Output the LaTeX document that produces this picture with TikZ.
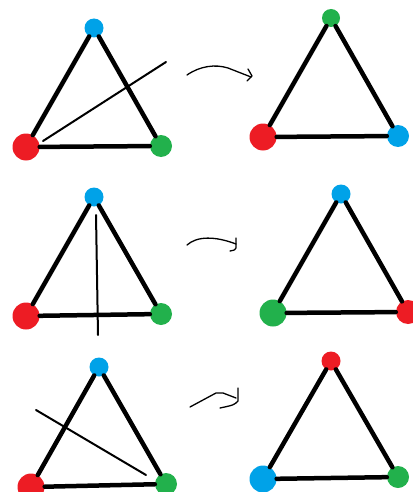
\documentclass[tikz,border=0pt]{standalone}
\definecolor{pred}{HTML}{ED1C24}
\definecolor{pblue}{HTML}{00A2E8}
\definecolor{pgreen}{HTML}{22B14C}
\tikzset{
  vtx/.style={circle,inner sep=0pt,minimum size=#1},
  rv/.style={vtx=#1,fill=pred},
  bv/.style={vtx=#1,fill=pblue},
  gv/.style={vtx=#1,fill=pgreen},
  edge/.style={line width=4.5pt,line cap=round},
  cut/.style={line width=2pt,line cap=round},
  hand/.style={line width=1.3pt,line cap=round,line join=round},
}
\begin{document}
\begin{tikzpicture}[x=1pt,y=-1pt]
\useasboundingbox (0,0) rectangle (412,492);
% panel 1
\coordinate (c1a) at (43,141); \coordinate (c1b) at (166,62);
\draw[cut] (c1a) -- (c1b);
\node[bv=19pt] (B1) at (94,28) {};
\node[rv=27pt] (R1) at (26,147) {};
\node[gv=22pt] (G1) at (161,146) {};
\draw[edge] (B1) -- (R1) -- (G1) -- (B1);
% panel 2
\node[gv=18pt] (G2) at (331,18) {};
\node[rv=27pt] (R2) at (263,137) {};
\node[bv=22pt] (B2) at (398,136) {};
\draw[edge] (G2) -- (R2) -- (B2) -- (G2);
% panel 3
\coordinate (c3a) at (96,215); \coordinate (c3b) at (98,335);
\draw[cut] (c3a) -- (c3b);
\node[bv=19pt] (B3) at (94,197) {};
\node[rv=27pt] (R3) at (26,316) {};
\node[gv=22pt] (G3) at (161,314) {};
\draw[edge] (B3) -- (R3) -- (G3) -- (B3);
% panel 4
\node[bv=19pt] (B4) at (341,194) {};
\node[gv=27pt] (G4) at (273,313) {};
\node[rv=24pt] (R4) at (408,312) {};
\draw[edge] (B4) -- (G4) -- (R4) -- (B4);
% panel 5
\coordinate (c5a) at (36,410); \coordinate (c5b) at (146,475);
\draw[cut] (c5a) -- (c5b);
\node[bv=19pt] (B5) at (99,367) {};
\node[rv=27pt] (R5) at (31,487) {};
\node[gv=22pt] (G5) at (166,484) {};
\draw[edge] (B5) -- (R5) -- (G5) -- (B5);
% panel 6
\node[rv=19pt] (R6) at (331,361) {};
\node[bv=27pt] (B6) at (263,479) {};
\node[gv=22pt] (G6) at (398,477) {};
\draw[edge] (R6) -- (B6) -- (G6) -- (R6);
% arrows
\coordinate (a1s) at (187,75); \coordinate (a1e) at (251,77);
\draw[hand] (a1s) .. controls (200,66) and (215,64) .. (228,68) -- (a1e);
\draw[hand] (248,69) -- (252,76) -- (247,81);
\coordinate (a2s) at (187,245); \coordinate (a2e) at (236,244);
\draw[hand] (a2s) .. controls (197,236) and (215,236) .. (a2e);
\draw[hand] (236,238) -- (236,248) .. controls (235,250) .. (230,251);
\coordinate (a3s) at (190,407); \coordinate (a3e) at (236,398);
\draw[hand] (a3s) -- (216,393) -- (223,393) -- (a3e);
\draw[hand] (238,388) -- (238,401) .. controls (234,405) .. (220,408);
\end{tikzpicture}
\end{document}
